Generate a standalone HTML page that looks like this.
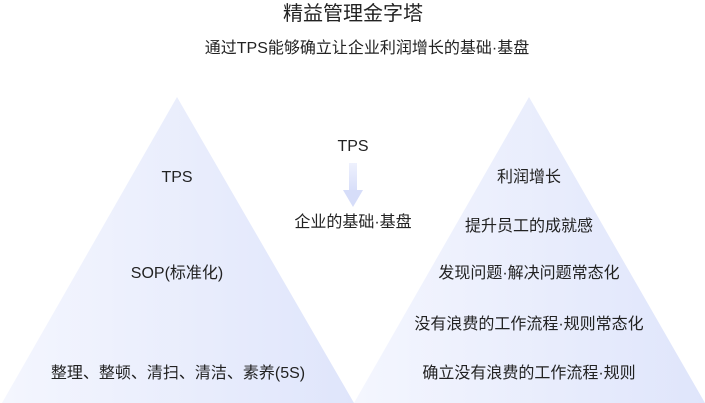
<!DOCTYPE html>
<html><head><meta charset="utf-8"><style>
body{margin:0;width:705px;height:403px;background:#fff;overflow:hidden;position:relative;font-family:"Liberation Sans","Noto Sans CJK SC",sans-serif;color:#222}
.t{position:absolute;white-space:nowrap;transform:translateX(-50%);font-size:16px;line-height:20px}
</style></head><body>
<svg width="705" height="403" style="position:absolute;left:0;top:0">
<defs>
<linearGradient id="g" x1="0" y1="0" x2="1" y2="0">
<stop offset="0" stop-color="#f4f6fe"/><stop offset="1" stop-color="#dfe5fb"/></linearGradient>
<linearGradient id="a" x1="0" y1="0" x2="0" y2="1">
<stop offset="0" stop-color="#eef1fd"/><stop offset="1" stop-color="#d6ddf9"/></linearGradient>
</defs>
<polygon points="177,97 2,403 354,403" fill="url(#g)"/>
<polygon points="529,97 354,403 705,403" fill="url(#g)"/>
<rect x="349" y="163" width="8" height="30" fill="url(#a)"/>
<polygon points="343,190 363,190 353,207" fill="#d6ddf9"/>
</svg>
<div class="t" style="left:353px;top:2px;font-size:20px;line-height:24px">精益管理金字塔</div>
<div class="t" style="left:367px;top:39px">通过TPS能够确立让企业利润增长的基础·基盘</div>
<div class="t" style="left:353px;top:137px">TPS</div>
<div class="t" style="left:353px;top:213px">企业的基础·基盘</div>
<div class="t" style="left:177px;top:168px">TPS</div>
<div class="t" style="left:177px;top:264px">SOP(标准化)</div>
<div class="t" style="left:178px;top:364px">整理、整顿、清扫、清洁、素养(5S)</div>
<div class="t" style="left:529px;top:168px">利润增长</div>
<div class="t" style="left:529px;top:217px">提升员工的成就感</div>
<div class="t" style="left:529px;top:264px">发现问题·解决问题常态化</div>
<div class="t" style="left:529px;top:315px">没有浪费的工作流程·规则常态化</div>
<div class="t" style="left:529px;top:364px">确立没有浪费的工作流程·规则</div>
</body></html>
